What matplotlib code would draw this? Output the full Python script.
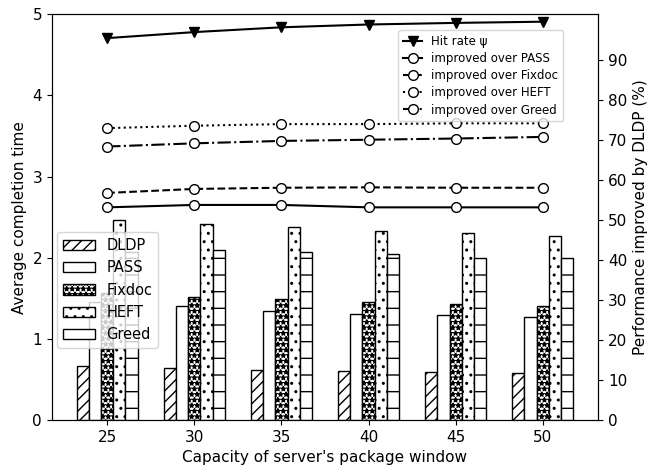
import numpy as np
import matplotlib
matplotlib.use('Agg')
import matplotlib.pyplot as plt

## Data

capacity = [25, 30, 35, 40, 45, 50]

# average completion time (left axis)
dldp = [0.67, 0.64, 0.62, 0.60, 0.595, 0.583]
pass_ = [1.45, 1.40, 1.35, 1.31, 1.29, 1.265]
fixdoc = [1.56, 1.52, 1.49, 1.46, 1.43, 1.40]
heft = [2.47, 2.41, 2.38, 2.33, 2.30, 2.27]
greed = [2.07, 2.09, 2.07, 2.04, 2.00, 2.00]

# performance improved by DLDP in % (right axis)
hit_rate = [95.5, 97.0, 98.2, 98.9, 99.3, 99.6]
over_pass = [53.2, 53.8, 53.8, 53.2, 53.2, 53.2]
over_fixdoc = [56.8, 57.8, 58.1, 58.2, 58.1, 58.1]
over_heft = [73.0, 73.6, 74.0, 74.0, 74.2, 74.2]
over_greed = [68.4, 69.2, 69.8, 70.1, 70.4, 70.8]

bar_names = ['DLDP', 'PASS', 'Fixdoc', 'HEFT', 'Greed']
bar_values = [dldp, pass_, fixdoc, heft, greed]
bar_hatches = ['///', '', '***', '..', '-']


## Plot

fig = plt.figure(figsize=(6.48, 4.70), dpi=100)
ax1 = fig.add_axes([0.080, 0.106, 0.843, 0.864])
ax2 = ax1.twinx()

width = 0.7
x = np.array(capacity, dtype=float)
for i, (name, vals, h) in enumerate(zip(bar_names, bar_values, bar_hatches)):
    ax1.bar(x + (i - 2) * width, vals, width, label=name, color='white',
            edgecolor='black', hatch=h, linewidth=1.0)

ax1.set_ylim(0, 5)
ax1.set_xticks(capacity)
ax1.set_xlabel("Capacity of server's package window", fontsize=11)
ax1.set_ylabel('Average completion time', fontsize=11)
ax1.tick_params(labelsize=11)

mk = dict(marker='o', markersize=7, markerfacecolor='white',
          markeredgecolor='black', color='black', linewidth=1.5)
ax2.plot(capacity, hit_rate, marker='v', markersize=7, color='black',
         linewidth=1.5, label='Hit rate \u03c8')
ax2.plot(capacity, over_pass, linestyle='-', label='improved over PASS', **mk)
ax2.plot(capacity, over_fixdoc, linestyle='--', label='improved over Fixdoc', **mk)
ax2.plot(capacity, over_heft, linestyle=':', label='improved over HEFT', **mk)
ax2.plot(capacity, over_greed, linestyle='-.', label='improved over Greed', **mk)

ax2.set_ylim(0, 101.5)
ax2.set_yticks(range(0, 100, 10))
ax2.set_ylabel('Performance improved by DLDP (%)', fontsize=11)
ax2.tick_params(labelsize=11)

ax2.legend(loc='upper right', bbox_to_anchor=(0.936, 0.96), borderaxespad=0,
           fontsize=8.5, handlelength=1.6, labelspacing=0.35)
ax1.legend(loc='upper left', bbox_to_anchor=(0.009, 0.463), borderaxespad=0,
           fontsize=10.5, handlelength=2.2)
ax1.set_zorder(ax2.get_zorder() + 1)
ax1.patch.set_visible(False)

fig.savefig('out.png', dpi=100)
